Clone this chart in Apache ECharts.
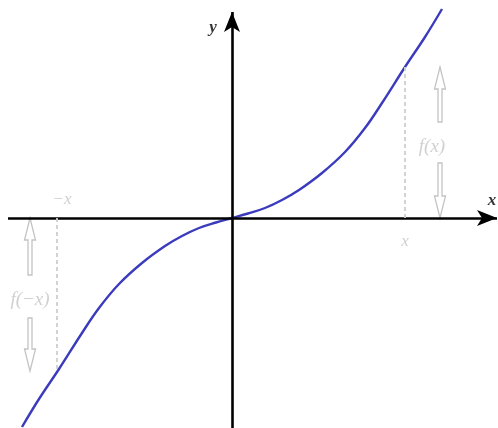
<!DOCTYPE html>
<html>
<head>
<meta charset="utf-8">
<script src="https://cdn.jsdelivr.net/npm/echarts@6/dist/echarts.min.js"></script>
<style>
  html, body { margin: 0; padding: 0; background: #fff; }
  #chart { width: 498px; height: 428px; }
</style>
</head>
<body>
<div id="chart"></div>
<script>
// odd function curve (origin at the crossing of the axes)
const curveX = [-210, -193, -173, -150, -133, -113, -90, -67, -50, -33, -16, 0, 16, 33, 50, 67, 90, 113, 133, 150, 173, 193, 210]
const curveY = [-209, -181, -151, -115, -90, -66, -45, -28, -18, -10, -4.5, 0, 4.5, 10, 18, 28, 45, 66, 90, 115, 151, 181, 209]

// the sample point x and its value f(x)
const sampleX = 173
const sampleFx = 151

const chart = echarts.init(document.getElementById('chart'))

const gray = '#c4c4c4'
const serif = 'Liberation Serif'

// hollow arrow, drawn from [x, from] to [x, to]
const hollowArrow = (params, api) => {
  const p0 = api.coord([api.value(0), api.value(1)])
  const p1 = api.coord([api.value(0), api.value(2)])
  const dir = p1[1] > p0[1] ? 1 : -1
  const head = 22, sw = 2, hw = 5.5
  const x = p0[0]
  const hy = p1[1] - dir * head
  return {
    type: 'polygon',
    shape: {
      points: [[x - sw, p0[1]], [x - sw, hy], [x - hw, hy], [x, p1[1]], [x + hw, hy], [x + sw, hy], [x + sw, p0[1]]]
    },
    style: { fill: '#fff', stroke: gray, lineWidth: 1.3 }
  }
}

const textLabel = (txt, pos, color, size) => ({
  value: pos,
  label: {
    show: true,
    formatter: txt,
    position: 'inside',
    color: color,
    fontFamily: serif,
    fontStyle: 'italic',
    fontWeight: color === '#000' ? 'bold' : 'normal',
    fontSize: size
  }
})

const option = {
  animation: false,
  grid: { left: 0, right: 0, top: 0, bottom: 0 },
  xAxis: { type: 'value', min: -232, max: 266, show: false },
  yAxis: { type: 'value', min: -210, max: 218, show: false },
  series: [
    {
      // axes with arrow heads
      type: 'line',
      data: [],
      markLine: {
        silent: true,
        symbol: ['none', 'arrow'],
        symbolSize: [12, 20],
        label: { show: false },
        lineStyle: { color: '#000', width: 2.6, type: 'solid' },
        data: [
          [{ coord: [-224, 0] }, { coord: [265, 0] }],
          [{ coord: [0, -210] }, { coord: [0, 206] }]
        ]
      }
    },
    {
      // dashed guides x -> f(x), -x -> f(-x)
      type: 'line',
      data: [],
      markLine: {
        silent: true,
        symbol: ['none', 'none'],
        label: { show: false },
        lineStyle: { color: '#cfcfcf', width: 1.8, type: [4, 3] },
        data: [
          [{ coord: [sampleX, 0] }, { coord: [sampleX, sampleFx] }],
          [{ coord: [-sampleX - 2, 0] }, { coord: [-sampleX - 2, -sampleFx] }]
        ]
      }
    },
    {
      type: 'line',
      data: curveX.map((x, i) => [x, curveY[i]]),
      smooth: 0.4,
      showSymbol: false,
      clip: false,
      lineStyle: { color: '#3b3bbd', width: 2.4 }
    },
    {
      type: 'custom',
      renderItem: hollowArrow,
      silent: true,
      data: [
        [208, 96, sampleFx],
        [208, 55, 0],
        [-202, -57, 0],
        [-202, -100, -sampleFx - 2]
      ]
    },
    {
      type: 'scatter',
      symbolSize: 0,
      silent: true,
      data: [
        textLabel('y', [-19, 190], '#000', 17),
        textLabel('x', [260, 17], '#000', 17),
        textLabel('x', [sampleX, -24], gray, 17),
        textLabel('−x', [-170, 18], gray, 17),
        textLabel('f(x)', [200, 71], gray, 19),
        textLabel('f(−x)', [-202, -82], gray, 19)
      ]
    }
  ]
}

chart.setOption(option)
</script>
</body>
</html>
